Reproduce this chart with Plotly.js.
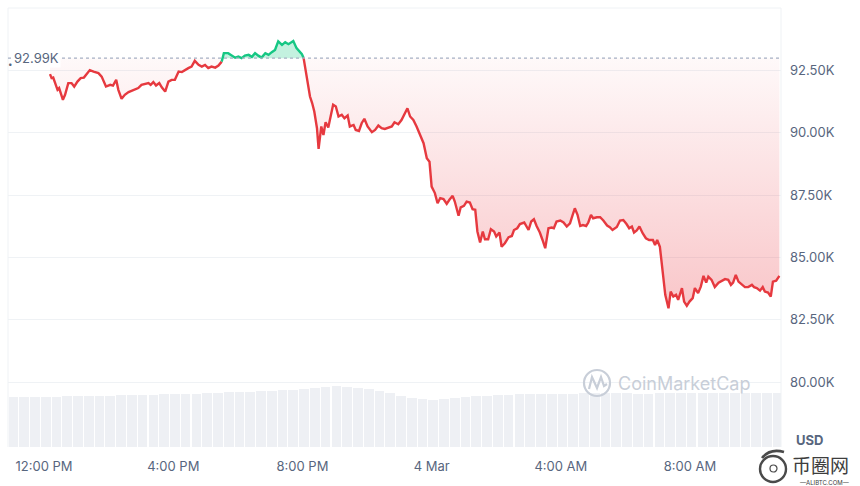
<!DOCTYPE html>
<html>
<head>
<meta charset="utf-8">
<script src="https://cdn.plot.ly/plotly-3.0.1.min.js"></script>
<style>html,body{margin:0;padding:0;background:#fff;}#chart{width:860px;height:486px;}</style>
</head>
<body>
<div id="chart"></div>
<script>
// ---- data ----
const timesMar3 = [
"12:11","12:14","12:17","12:20","12:25","12:28","12:35","12:39","12:45","12:51",
"12:56","13:02","13:08","13:14","13:19","13:25","13:32","13:41","13:47","13:55",
"14:03","14:08","14:14","14:18","14:24","14:30","14:37","14:46","14:55","15:01",
"15:08","15:14","15:18","15:23","15:28","15:34","15:39","15:45","15:51","15:57",
"16:03","16:10","16:16","16:22","16:28","16:34","16:40","16:47","16:53","16:59",
"17:05","17:11","17:18","17:24","17:30","17:34","17:42","17:49","17:55","18:01",
"18:07","18:13","18:20","18:26","18:32","18:38","18:44","18:51","18:57","19:03",
"19:09","19:15","19:22","19:28","19:34","19:43","19:49","19:59","20:02","20:06",
"20:11","20:14","20:18","20:22","20:27","20:30","20:35","20:39","20:43","20:48",
"20:53","20:57","21:02","21:07","21:13","21:18","21:24","21:28","21:35","21:39",
"21:45","21:50","21:55","22:01","22:09","22:15","22:21","22:27","22:33","22:40",
"22:46","22:51","22:58","23:04","23:11","23:15","23:20","23:26","23:32","23:38",
"23:45","23:51","23:56"];
const timesMar4 = [
"00:00","00:06","00:11","00:16","00:22","00:28","00:33",
"00:39","00:43","00:50","00:54","01:00","01:05","01:11","01:16","01:21","01:25",
"01:30","01:35","01:39","01:45","01:50","01:56","02:00","02:06","02:10","02:16",
"02:23","02:29","02:33","02:39","02:44","02:52","03:00","03:05","03:10","03:15",
"03:21","03:26","03:31","03:37","03:43","03:47","03:52","03:59","04:05","04:11",
"04:17","04:22","04:26","04:31","04:36","04:41","04:47","04:51","04:56","05:00",
"05:07","05:13","05:19","05:26","05:31","05:36","05:44","05:50","05:56","06:02",
"06:07","06:12","06:16","06:21","06:26","06:32","06:38","06:44","06:51","06:55",
"06:59","07:04","07:09","07:14","07:20","07:24","07:29","07:34","07:38","07:45",
"07:49","07:54","07:59","08:05","08:09","08:15","08:20","08:25","08:30","08:34",
"08:40","08:46","08:53","08:59","09:05","09:11","09:16","09:20","09:25","09:30",
"09:36","09:42","09:48","09:55","09:59","10:04","10:10","10:15","10:19","10:25",
"10:30","10:34","10:40","10:46"];
const prices = [
92350,92190,92210,92050,91720,91790,91320,91520,91990,91990,
91850,92050,92190,92210,92350,92510,92450,92390,92250,91850,
91920,91890,92120,91720,91360,91520,91630,91720,91790,91920,
91950,91990,91920,92030,91890,91990,91810,91650,92050,92120,
92120,92450,92430,92520,92590,92650,92880,92720,92650,92720,
92590,92650,92610,92690,92850,93190,93190,93090,93010,93050,
92990,93090,93120,93040,93190,93090,93010,93190,93120,93230,
93320,93660,93520,93630,93550,93680,93390,93150,93010,92450,
91790,91450,91190,90850,90180,89350,90250,89910,90420,90210,
90720,91120,91050,90650,90720,90580,90690,90250,90310,90110,
90070,90380,90560,90250,90020,90110,90290,90180,90150,90210,
90250,90420,90340,90510,90780,90980,90650,90510,90250,89910,
89580,88980,88840,87840,87580,87170,87380,87340,87150,87310,
87470,87240,86670,87010,87070,87240,87200,86930,86910,86040,
85600,86040,85730,85730,86130,86040,85840,86000,85430,85570,
85810,85860,86100,86170,86340,86400,86100,86440,86530,86260,
86000,85700,85370,86170,86200,86170,86440,86480,86400,86240,
86370,86710,86970,86710,86260,86300,86260,86400,86710,86570,
86610,86610,86480,86280,86210,86100,86220,86480,86500,86340,
86170,86240,86000,86080,86240,85970,85770,85700,85700,85500,
85700,85430,84370,83500,82960,83630,83430,83500,83300,83770,
83230,83060,83230,83370,83770,83570,83830,84260,83990,84230,
84100,83810,83990,84060,84130,84100,83900,83990,84300,84030,
83900,83810,83810,83900,83810,83770,83670,83810,83630,83590,
83430,84030,84070,84260];
const baselinePrice = 92990;
const baselineLabel = "92.99K";
const greenStart = 54, greenEnd = 78;   // indices of the segment drawn above the open price

// 24h volume (USD billions), one bar per 20 minutes starting 10:53
const volumes = [
45.6,45.6,45.6,46.0,46.0,46.5,46.5,46.5,46.9,46.9,
47.4,47.4,47.8,47.8,48.3,48.3,48.7,48.7,49.2,49.2,
49.7,50.1,50.1,50.6,51.0,51.5,51.9,52.8,53.8,55.1,
55.6,54.7,53.8,52.4,51.0,49.2,46.9,44.6,43.3,42.8,
43.3,44.2,45.6,46.5,46.9,47.4,47.8,48.3,48.3,48.7,
48.7,48.7,48.7,49.2,49.2,49.2,49.2,49.2,48.7,48.7,
49.2,49.2,49.2,49.2,49.2,49.2,49.2,49.2,49.2,49.2,
49.2,49.2];
const volStart = Date.UTC(2025,2,3,11,3);   // centre of first 20-min bar
const volTimes = volumes.map((_, k) =>
  new Date(volStart + k*20*60000).toISOString().slice(0,16).replace('T',' '));

const yTickVals = [80000,82500,85000,87500,90000,92500];
const yTickText = ["80.00K","82.50K","85.00K","87.50K","90.00K","92.50K"];
const xTickVals = ["2025-03-03 12:00","2025-03-03 16:00","2025-03-03 20:00","2025-03-04 00:00","2025-03-04 04:00","2025-03-04 08:00"];
const xTickText = ["12:00 PM","4:00 PM","8:00 PM","4 Mar","4:00 AM","8:00 AM"];

// ---- build ----
const times = timesMar3.map(t => "2025-03-03 " + t).concat(timesMar4.map(t => "2025-03-04 " + t));
const base = times.map(() => baselinePrice);
const below = prices.map(p => Math.min(p, baselinePrice));
const above = prices.map(p => Math.max(p, baselinePrice));

const RED = '#e6393f', GREEN = '#16c784';
const FONT = 'Inter, "Noto Sans", sans-serif';
const GREY = '#58667e';

const traces = [
  { type:'bar', x: volTimes, y: volumes, yaxis:'y2', width: 20*60000*0.9,
    marker:{color:'#eef0f4', line:{width:0}}, hoverinfo:'skip' },
  { type:'scatter', mode:'lines', x: times, y: base, line:{width:0, color:'rgba(0,0,0,0)'}, hoverinfo:'skip' },
  { type:'scatter', mode:'lines', x: times, y: below, fill:'tonexty', line:{width:0, color:'rgba(0,0,0,0)'},
    fillgradient:{type:'vertical', start: 82500, stop: 93000,
      colorscale:[[0,'rgba(234,57,67,0.30)'],[1,'rgba(234,57,67,0.03)']]}, hoverinfo:'skip' },
  { type:'scatter', mode:'lines', x: times, y: base, line:{width:0, color:'rgba(0,0,0,0)'}, hoverinfo:'skip' },
  { type:'scatter', mode:'lines', x: times, y: above, fill:'tonexty', line:{width:0, color:'rgba(0,0,0,0)'},
    fillcolor:'rgba(22,199,132,0.26)', hoverinfo:'skip' },
  { type:'scatter', mode:'lines', x: times.slice(0, greenStart+1), y: prices.slice(0, greenStart+1),
    line:{color:RED, width:2.4} },
  { type:'scatter', mode:'lines', x: times.slice(greenStart, greenEnd+1), y: prices.slice(greenStart, greenEnd+1),
    line:{color:GREEN, width:2.4} },
  { type:'scatter', mode:'lines', x: times.slice(greenEnd), y: prices.slice(greenEnd),
    line:{color:RED, width:2.4} }
];

// decoration positions (pixel -> paper)
const L = 8, R = 781, T = 8, B = 447;
const px = v => (v - L) / (R - L);
const py = v => (B - v) / (B - T);

const layout = {
  width: 860, height: 486,
  margin: {l: L, r: 860 - R, t: T, b: 486 - B},
  paper_bgcolor: '#ffffff', plot_bgcolor: '#ffffff',
  showlegend: false,
  font: {family: FONT, color: GREY, size: 13},
  xaxis: {
    type: 'date', range: ["2025-03-03 10:53", "2025-03-04 10:49"],
    tickvals: xTickVals, ticktext: xTickText, tickmode: 'array',
    showgrid: false, zeroline: false, showline: false, ticks: '',
    tickfont: {family: FONT, size: 13, color: GREY}, ticklabelstandoff: 10
  },
  yaxis: {
    side: 'right', range: [77400, 95000], tickmode: 'array',
    tickvals: yTickVals, ticktext: yTickText,
    showgrid: true, gridcolor: '#eff2f5', gridwidth: 1, zeroline: false, showline: false, ticks: '',
    tickfont: {family: FONT, size: 13, color: GREY}, ticklabelstandoff: 8
  },
  yaxis2: { overlaying: 'y', range: [0, 400], visible: false, fixedrange: true },
  bargap: 0,
  shapes: [
    {type:'line', xref:'paper', yref:'paper', x0:0, x1:0, y0:0, y1:1, line:{color:'#eff2f5', width:1}},
    {type:'line', xref:'paper', yref:'paper', x0:1, x1:1, y0:0, y1:1, line:{color:'#eff2f5', width:1}},
    {type:'line', xref:'paper', yref:'paper', x0:0, x1:1, y0:1, y1:1, line:{color:'#eff2f5', width:1}},
    {type:'line', xref:'paper', yref:'y', x0:0, x1:1, y0:baselinePrice, y1:baselinePrice,
      line:{color:'#a6b0c3', width:1.2, dash:'dot'}},
    // CoinMarketCap watermark logo
    {type:'circle', xref:'paper', yref:'paper', x0:px(584), x1:px(610), y0:py(396), y1:py(370),
      line:{color:'#c8ced8', width:2.2}},
    {type:'path', xref:'paper', yref:'paper',
      path:`M ${px(589)} ${py(389)} L ${px(592)} ${py(377)} L ${px(597)} ${py(388)} L ${px(601)} ${py(377)} L ${px(604)} ${py(386)} L ${px(607)} ${py(384)}`,
      line:{color:'#c8ced8', width:2.2}},
    // bottom-right site logo
    {type:'circle', xref:'paper', yref:'paper', x0:px(760), x1:px(786), y0:py(482), y1:py(456),
      line:{color:'#4a4a4a', width:2.4}},
    {type:'path', xref:'paper', yref:'paper',
      path:`M ${px(762)} ${py(458)} Q ${px(770)} ${py(448)} ${px(784)} ${py(452)}`,
      line:{color:'#4a4a4a', width:2.6}},
    {type:'circle', xref:'paper', yref:'paper', x0:px(770), x1:px(777), y0:py(472), y1:py(465),
      line:{color:'#4a4a4a', width:1.2}}
  ],
  annotations: [
    {xref:'paper', yref:'y', x:px(12), y:baselinePrice, xanchor:'left', yanchor:'middle',
      text: baselineLabel, showarrow:false, bgcolor:'#ffffff',
      font:{family:FONT, size:13, color:GREY}, borderpad:1},
    {xref:'paper', yref:'paper', x:px(6), y:py(57), text:'•', showarrow:false,
      font:{family:FONT, size:8, color:GREY}},
    {xref:'paper', yref:'paper', x:px(616), y:py(383), xanchor:'left', yanchor:'middle',
      text:'CoinMarketCap', showarrow:false, font:{family:FONT, size:18, color:'#c8ced8'}},
    {xref:'paper', yref:'paper', x:px(795), y:py(440), xanchor:'left', yanchor:'middle',
      text:'<b>USD</b>', showarrow:false, font:{family:FONT, size:13, color:GREY}, borderpad:0},
    {xref:'paper', yref:'paper', x:px(791), y:py(464), xanchor:'left', yanchor:'middle',
      text:'币圈网', showarrow:false, borderpad:0,
      font:{family:'"Noto Sans CJK SC", sans-serif', size:19, color:'#3e3e3e'}},
    {xref:'paper', yref:'paper', x:px(824), y:py(482), xanchor:'center', yanchor:'middle',
      text:'—ALIBTC.COM—', showarrow:false, borderpad:0, font:{family:FONT, size:6, color:'#3e3e3e'}}
  ]
};

Plotly.newPlot('chart', traces, layout, {displayModeBar:false, staticPlot:true});
</script>
</body>
</html>
